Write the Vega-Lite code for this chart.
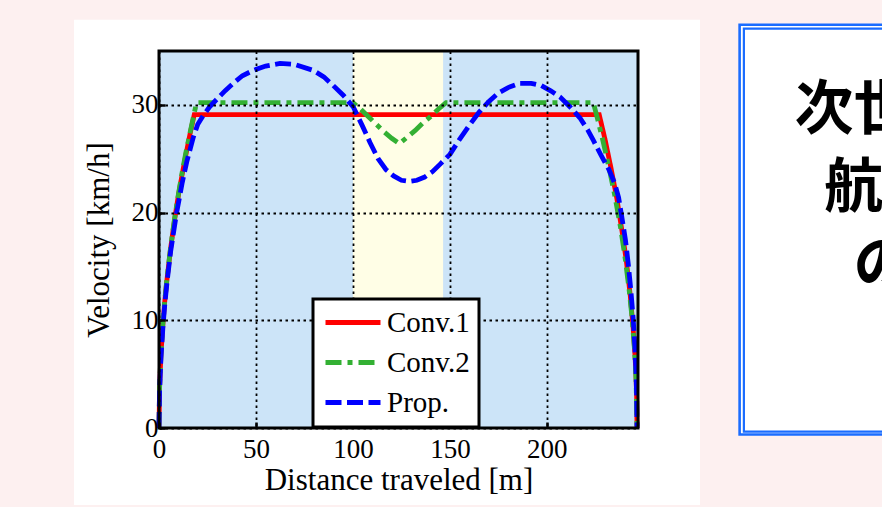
{
  "$schema": "https://vega.github.io/schema/vega-lite/v6.json",
  "width": 479,
  "height": 377,
  "autosize": {"type": "none"},
  "padding": {"left": 159, "top": 51, "right": 244, "bottom": 79},
  "background": "#fdf0f0",
  "config": {
    "view": {"stroke": null},
    "axis": {
      "labelFont": "Liberation Serif",
      "labelFontSize": 27,
      "labelColor": "black",
      "titleFont": "Liberation Serif",
      "titleFontSize": 31,
      "titleFontWeight": "normal",
      "titleColor": "black",
      "grid": true,
      "gridColor": "black",
      "gridDash": [2.5, 3.5],
      "gridWidth": 1.8,
      "gridOpacity": 1,
      "domain": false,
      "ticks": true,
      "tickColor": "black",
      "tickSize": -6,
      "tickWidth": 2.5,
      "labelFlush": false,
      "labelOverlap": false
    },
    "legend": {
      "strokeColor": "black",
      "fillColor": "white",
      "strokeWidth": 3
    }
  },
  "encoding": {
    "x": {"type": "quantitative", "scale": {"domain": [0, 247], "nice": false, "zero": false},
      "axis": {"values": [0, 50, 100, 150, 200], "title": "Distance traveled [m]", "labelPadding": 14, "titlePadding": 3, "zindex": 1}},
    "y": {"type": "quantitative", "scale": {"domain": [0, 35], "nice": false, "zero": false},
      "axis": {"values": [0, 10, 20, 30], "title": "Velocity [km/h]", "labelPadding": 7, "titlePadding": 16, "zindex": 1}}
  },
  "layer": [
    {
      "data": {"values": [{"x": -43.8, "x2": 279, "y": 37.9, "y2": -7.15}]},
      "mark": {"type": "rect", "fill": "white"},
      "encoding": {"x": {"field": "x"}, "x2": {"field": "x2"}, "y": {"field": "y"}, "y2": {"field": "y2"}}
    },
    {
      "data": {"values": [{"x": 299.4, "x2": 700, "y": 37.44, "y2": -0.6}]},
      "mark": {"type": "rect", "fill": "white", "stroke": "#1a6cff", "strokeWidth": 2.6},
      "encoding": {"x": {"field": "x"}, "x2": {"field": "x2"}, "y": {"field": "y"}, "y2": {"field": "y2"}}
    },
    {
      "data": {"values": [{"x": 301.6, "x2": 700, "y": 37.08, "y2": -0.33}]},
      "mark": {"type": "rect", "fillOpacity": 0, "stroke": "#1a6cff", "strokeWidth": 2.2},
      "encoding": {"x": {"field": "x"}, "x2": {"field": "x2"}, "y": {"field": "y"}, "y2": {"field": "y2"}}
    },
    {
      "data": {"values": [
        {"t": "次世代電池", "x": 403.8, "y": 29.4},
        {"t": "航続距離", "x": 403.8, "y": 22.2},
        {"t": "の延長", "x": 403.8, "y": 15.0}
      ]},
      "mark": {"type": "text", "font": "Noto Sans CJK JP", "fontSize": 59, "fontWeight": "bold", "align": "center", "baseline": "middle", "color": "black"},
      "encoding": {"x": {"field": "x"}, "y": {"field": "y"}, "text": {"field": "t"}}
    },
    {
      "data": {"values": [{"x": 0, "x2": 247, "y": 0, "y2": 35}]},
      "mark": {"type": "rect", "fill": "#cce4f8"},
      "encoding": {"x": {"field": "x"}, "x2": {"field": "x2"}, "y": {"field": "y"}, "y2": {"field": "y2"}}
    },
    {
      "data": {"values": [{"x": 100, "x2": 146.5, "y": 0, "y2": 35}]},
      "mark": {"type": "rect", "fill": "#fffee6"},
      "encoding": {"x": {"field": "x"}, "x2": {"field": "x2"}, "y": {"field": "y"}, "y2": {"field": "y2"}}
    },
    {
      "data": {"values": [
        {"s": "Conv.1", "d": 0, "v": 0},
        {"s": "Conv.1", "d": 0.3, "v": 3.7},
        {"s": "Conv.1", "d": 1, "v": 6.8},
        {"s": "Conv.1", "d": 2, "v": 9.6},
        {"s": "Conv.1", "d": 3, "v": 11.8},
        {"s": "Conv.1", "d": 4, "v": 13.6},
        {"s": "Conv.1", "d": 6, "v": 16.7},
        {"s": "Conv.1", "d": 8, "v": 19.3},
        {"s": "Conv.1", "d": 10, "v": 21.6},
        {"s": "Conv.1", "d": 12, "v": 23.6},
        {"s": "Conv.1", "d": 14, "v": 25.5},
        {"s": "Conv.1", "d": 16, "v": 27.3},
        {"s": "Conv.1", "d": 18.2, "v": 29.1},
        {"s": "Conv.1", "d": 227, "v": 29.1},
        {"s": "Conv.1", "d": 230, "v": 26.8},
        {"s": "Conv.1", "d": 233, "v": 24.2},
        {"s": "Conv.1", "d": 236, "v": 21.4},
        {"s": "Conv.1", "d": 239, "v": 18.0},
        {"s": "Conv.1", "d": 241, "v": 15.5},
        {"s": "Conv.1", "d": 243, "v": 12.3},
        {"s": "Conv.1", "d": 244.5, "v": 9.3},
        {"s": "Conv.1", "d": 245.5, "v": 6.6},
        {"s": "Conv.1", "d": 246, "v": 4.7},
        {"s": "Conv.1", "d": 246.3, "v": 2.9},
        {"s": "Conv.1", "d": 246.5, "v": 0},
        {"s": "Conv.2", "d": 0, "v": 0},
        {"s": "Conv.2", "d": 0.3, "v": 3.8},
        {"s": "Conv.2", "d": 1, "v": 6.9},
        {"s": "Conv.2", "d": 2, "v": 9.7},
        {"s": "Conv.2", "d": 3, "v": 11.9},
        {"s": "Conv.2", "d": 4, "v": 13.7},
        {"s": "Conv.2", "d": 6, "v": 16.8},
        {"s": "Conv.2", "d": 8, "v": 19.4},
        {"s": "Conv.2", "d": 10, "v": 21.7},
        {"s": "Conv.2", "d": 12, "v": 23.8},
        {"s": "Conv.2", "d": 14, "v": 25.7},
        {"s": "Conv.2", "d": 16, "v": 27.4},
        {"s": "Conv.2", "d": 18, "v": 29.1},
        {"s": "Conv.2", "d": 19.4, "v": 30.2},
        {"s": "Conv.2", "d": 100, "v": 30.2},
        {"s": "Conv.2", "d": 104, "v": 29.6},
        {"s": "Conv.2", "d": 108, "v": 28.9},
        {"s": "Conv.2", "d": 112, "v": 28.2},
        {"s": "Conv.2", "d": 116, "v": 27.5},
        {"s": "Conv.2", "d": 120, "v": 26.9},
        {"s": "Conv.2", "d": 124, "v": 26.4},
        {"s": "Conv.2", "d": 128, "v": 27.0},
        {"s": "Conv.2", "d": 132, "v": 27.6},
        {"s": "Conv.2", "d": 136, "v": 28.3},
        {"s": "Conv.2", "d": 140, "v": 28.9},
        {"s": "Conv.2", "d": 144, "v": 29.6},
        {"s": "Conv.2", "d": 148, "v": 30.2},
        {"s": "Conv.2", "d": 224, "v": 30.2},
        {"s": "Conv.2", "d": 226, "v": 28.8},
        {"s": "Conv.2", "d": 229, "v": 26.6},
        {"s": "Conv.2", "d": 232, "v": 24.2},
        {"s": "Conv.2", "d": 235, "v": 21.6},
        {"s": "Conv.2", "d": 238, "v": 18.6},
        {"s": "Conv.2", "d": 240.5, "v": 15.6},
        {"s": "Conv.2", "d": 242.5, "v": 12.7},
        {"s": "Conv.2", "d": 244, "v": 10.1},
        {"s": "Conv.2", "d": 245.3, "v": 7.0},
        {"s": "Conv.2", "d": 246, "v": 4.5},
        {"s": "Conv.2", "d": 246.5, "v": 0},
        {"s": "Prop.", "d": 0, "v": 0},
        {"s": "Prop.", "d": 0.3, "v": 3.5},
        {"s": "Prop.", "d": 1, "v": 6.5},
        {"s": "Prop.", "d": 2, "v": 9.3},
        {"s": "Prop.", "d": 3, "v": 11.5},
        {"s": "Prop.", "d": 4, "v": 13.3},
        {"s": "Prop.", "d": 6, "v": 16.4},
        {"s": "Prop.", "d": 9, "v": 19.9},
        {"s": "Prop.", "d": 12, "v": 22.8},
        {"s": "Prop.", "d": 14.3, "v": 24.7},
        {"s": "Prop.", "d": 17.7, "v": 27.0},
        {"s": "Prop.", "d": 20, "v": 28.2},
        {"s": "Prop.", "d": 22.8, "v": 29.0},
        {"s": "Prop.", "d": 26, "v": 29.8},
        {"s": "Prop.", "d": 29.7, "v": 30.5},
        {"s": "Prop.", "d": 34, "v": 31.3},
        {"s": "Prop.", "d": 38.3, "v": 32.0},
        {"s": "Prop.", "d": 43, "v": 32.7},
        {"s": "Prop.", "d": 48.6, "v": 33.2},
        {"s": "Prop.", "d": 55, "v": 33.6},
        {"s": "Prop.", "d": 62.4, "v": 33.85},
        {"s": "Prop.", "d": 70, "v": 33.75},
        {"s": "Prop.", "d": 79.5, "v": 33.2},
        {"s": "Prop.", "d": 85, "v": 32.6},
        {"s": "Prop.", "d": 89.8, "v": 31.8},
        {"s": "Prop.", "d": 95, "v": 30.9},
        {"s": "Prop.", "d": 100.2, "v": 29.8},
        {"s": "Prop.", "d": 105, "v": 28.0},
        {"s": "Prop.", "d": 108.8, "v": 26.5},
        {"s": "Prop.", "d": 113, "v": 25.0},
        {"s": "Prop.", "d": 117, "v": 24.0},
        {"s": "Prop.", "d": 121, "v": 23.4},
        {"s": "Prop.", "d": 125, "v": 23.0},
        {"s": "Prop.", "d": 129, "v": 22.9},
        {"s": "Prop.", "d": 133, "v": 23.0},
        {"s": "Prop.", "d": 137, "v": 23.3},
        {"s": "Prop.", "d": 141, "v": 23.8},
        {"s": "Prop.", "d": 145, "v": 24.5},
        {"s": "Prop.", "d": 150, "v": 25.4},
        {"s": "Prop.", "d": 155, "v": 26.8},
        {"s": "Prop.", "d": 160, "v": 28.1},
        {"s": "Prop.", "d": 165, "v": 29.3},
        {"s": "Prop.", "d": 170, "v": 30.3},
        {"s": "Prop.", "d": 175, "v": 31.1},
        {"s": "Prop.", "d": 180, "v": 31.6},
        {"s": "Prop.", "d": 186, "v": 32.0},
        {"s": "Prop.", "d": 192, "v": 32.0},
        {"s": "Prop.", "d": 197, "v": 31.8},
        {"s": "Prop.", "d": 202, "v": 31.3},
        {"s": "Prop.", "d": 207, "v": 30.7},
        {"s": "Prop.", "d": 212, "v": 29.8},
        {"s": "Prop.", "d": 217, "v": 28.8},
        {"s": "Prop.", "d": 221, "v": 27.7},
        {"s": "Prop.", "d": 224, "v": 26.7},
        {"s": "Prop.", "d": 228, "v": 25.3},
        {"s": "Prop.", "d": 232, "v": 24.0},
        {"s": "Prop.", "d": 235, "v": 22.7},
        {"s": "Prop.", "d": 237, "v": 21.4},
        {"s": "Prop.", "d": 239, "v": 19.2},
        {"s": "Prop.", "d": 240.5, "v": 17.5},
        {"s": "Prop.", "d": 242, "v": 15.2},
        {"s": "Prop.", "d": 243.3, "v": 12.8},
        {"s": "Prop.", "d": 244.5, "v": 10.2},
        {"s": "Prop.", "d": 245.4, "v": 7.5},
        {"s": "Prop.", "d": 246, "v": 5.0},
        {"s": "Prop.", "d": 246.3, "v": 3.0},
        {"s": "Prop.", "d": 246.5, "v": 0}
      ]},
      "mark": {"type": "line", "strokeWidth": 4.8, "strokeCap": "butt"},
      "encoding": {
        "x": {"field": "d"},
        "y": {"field": "v"},
        "color": {
          "field": "s", "type": "nominal",
          "scale": {"domain": ["Conv.1", "Conv.2", "Prop."], "range": ["#ff0000", "#33b033", "#0000ff"]},
          "legend": {
            "title": null, "orient": "none", "legendX": 154, "legendY": 248, "zindex": 2,
            "symbolType": "M-1,0H4", "symbolSize": 484, "symbolStrokeWidth": 5,
            "labelFont": "Liberation Serif", "labelFontSize": 29, "labelColor": "black",
            "labelOffset": 36, "padding": 9, "rowPadding": 10,
            "strokeColor": "black", "fillColor": "white"
          }
        },
        "strokeDash": {
          "field": "s", "type": "nominal",
          "scale": {"domain": ["Conv.1", "Conv.2", "Prop."], "range": [[1, 0], [16, 6, 5, 6], [16, 5.5]]},
          "legend": {
            "title": null, "orient": "none", "legendX": 154, "legendY": 248, "zindex": 2,
            "symbolType": "M-1,0H4", "symbolSize": 484, "symbolStrokeWidth": 5,
            "labelFont": "Liberation Serif", "labelFontSize": 29, "labelColor": "black",
            "labelOffset": 36, "padding": 9, "rowPadding": 10,
            "strokeColor": "black", "fillColor": "white"
          }
        }
      }
    },
    {
      "data": {"values": [{"x": 0, "x2": 247, "y": 0, "y2": 35}]},
      "mark": {"type": "rect", "fillOpacity": 0, "stroke": "black", "strokeWidth": 3},
      "encoding": {"x": {"field": "x"}, "x2": {"field": "x2"}, "y": {"field": "y"}, "y2": {"field": "y2"}}
    }
  ]
}
